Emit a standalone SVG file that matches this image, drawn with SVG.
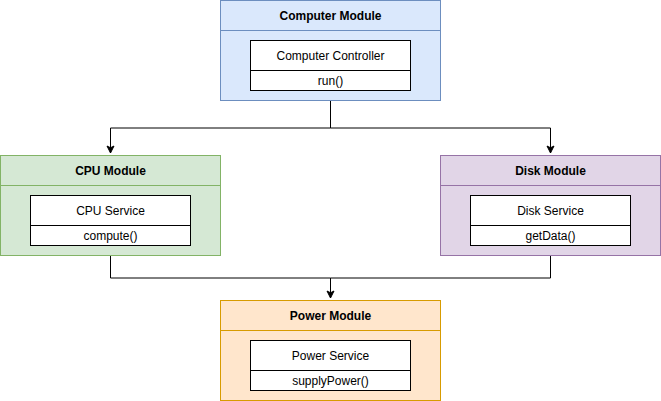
<svg xmlns="http://www.w3.org/2000/svg" width="661" height="401" viewBox="0 0 661 401">
<defs>
<marker id="arr" markerWidth="10" markerHeight="10" refX="8" refY="5" orient="auto" markerUnits="userSpaceOnUse">
<path d="M1,1.5 L8,5 L1,8.5 L2.75,5 Z" fill="#000" stroke="#000" stroke-width="1"/>
</marker>
</defs>
<style>
text{font-family:"Liberation Sans",Arial,sans-serif;font-size:12px;fill:#000;text-anchor:middle;dominant-baseline:central}
.t{font-weight:bold}
.inner{fill:#fff;stroke:#000;stroke-width:1}
.c{fill:none;stroke:#000;stroke-width:1}
</style>
<rect width="661" height="401" fill="#fff"/>
<g id="connectors">
<path class="c" d="M330.5,100.5 V128 H110.5 V153" marker-end="url(#arr)"/>
<path class="c" d="M330.5,128 H550.5 V153" marker-end="url(#arr)"/>
<path class="c" d="M110.5,255.5 V278 H330.5 V298" marker-end="url(#arr)"/>
<path class="c" d="M550.5,255.5 V278 H330.5"/>
</g>
<g id="computer-module">
<rect x="220.5" y="0.5" width="220" height="100" fill="#dae8fc" stroke="#6c8ebf"/>
<line x1="220.5" y1="30.5" x2="440.5" y2="30.5" stroke="#6c8ebf"/>
<text class="t" x="330.5" y="15.5">Computer Module</text>
<g id="computer-controller">
<rect class="inner" x="250.5" y="40.5" width="160" height="50"/>
<line x1="250.5" y1="70.5" x2="410.5" y2="70.5" stroke="#000"/>
<text x="330.5" y="55.5">Computer Controller</text>
<text x="330.5" y="80.5">run()</text>
</g>
</g>
<g id="cpu-module">
<rect x="0.5" y="155.5" width="220" height="100" fill="#d5e8d4" stroke="#82b366"/>
<line x1="0.5" y1="185.5" x2="220.5" y2="185.5" stroke="#82b366"/>
<text class="t" x="110.5" y="170.5">CPU Module</text>
<g id="cpu-service">
<rect class="inner" x="30.5" y="195.5" width="160" height="50"/>
<line x1="30.5" y1="225.5" x2="190.5" y2="225.5" stroke="#000"/>
<text x="110.5" y="210.5">CPU Service</text>
<text x="110.5" y="235.5">compute()</text>
</g>
</g>
<g id="disk-module">
<rect x="440.5" y="155.5" width="220" height="100" fill="#e1d5e7" stroke="#9673a6"/>
<line x1="440.5" y1="185.5" x2="660.5" y2="185.5" stroke="#9673a6"/>
<text class="t" x="550.5" y="170.5">Disk Module</text>
<g id="disk-service">
<rect class="inner" x="470.5" y="195.5" width="160" height="50"/>
<line x1="470.5" y1="225.5" x2="630.5" y2="225.5" stroke="#000"/>
<text x="550.5" y="210.5">Disk Service</text>
<text x="550.5" y="235.5">getData()</text>
</g>
</g>
<g id="power-module">
<rect x="220.5" y="300.5" width="220" height="100" fill="#ffe6cc" stroke="#d79b00"/>
<line x1="220.5" y1="330.5" x2="440.5" y2="330.5" stroke="#d79b00"/>
<text class="t" x="330.5" y="315.5">Power Module</text>
<g id="power-service">
<rect class="inner" x="250.5" y="340.5" width="160" height="50"/>
<line x1="250.5" y1="370.5" x2="410.5" y2="370.5" stroke="#000"/>
<text x="330.5" y="355.5">Power Service</text>
<text x="330.5" y="380.5">supplyPower()</text>
</g>
</g>
</svg>
